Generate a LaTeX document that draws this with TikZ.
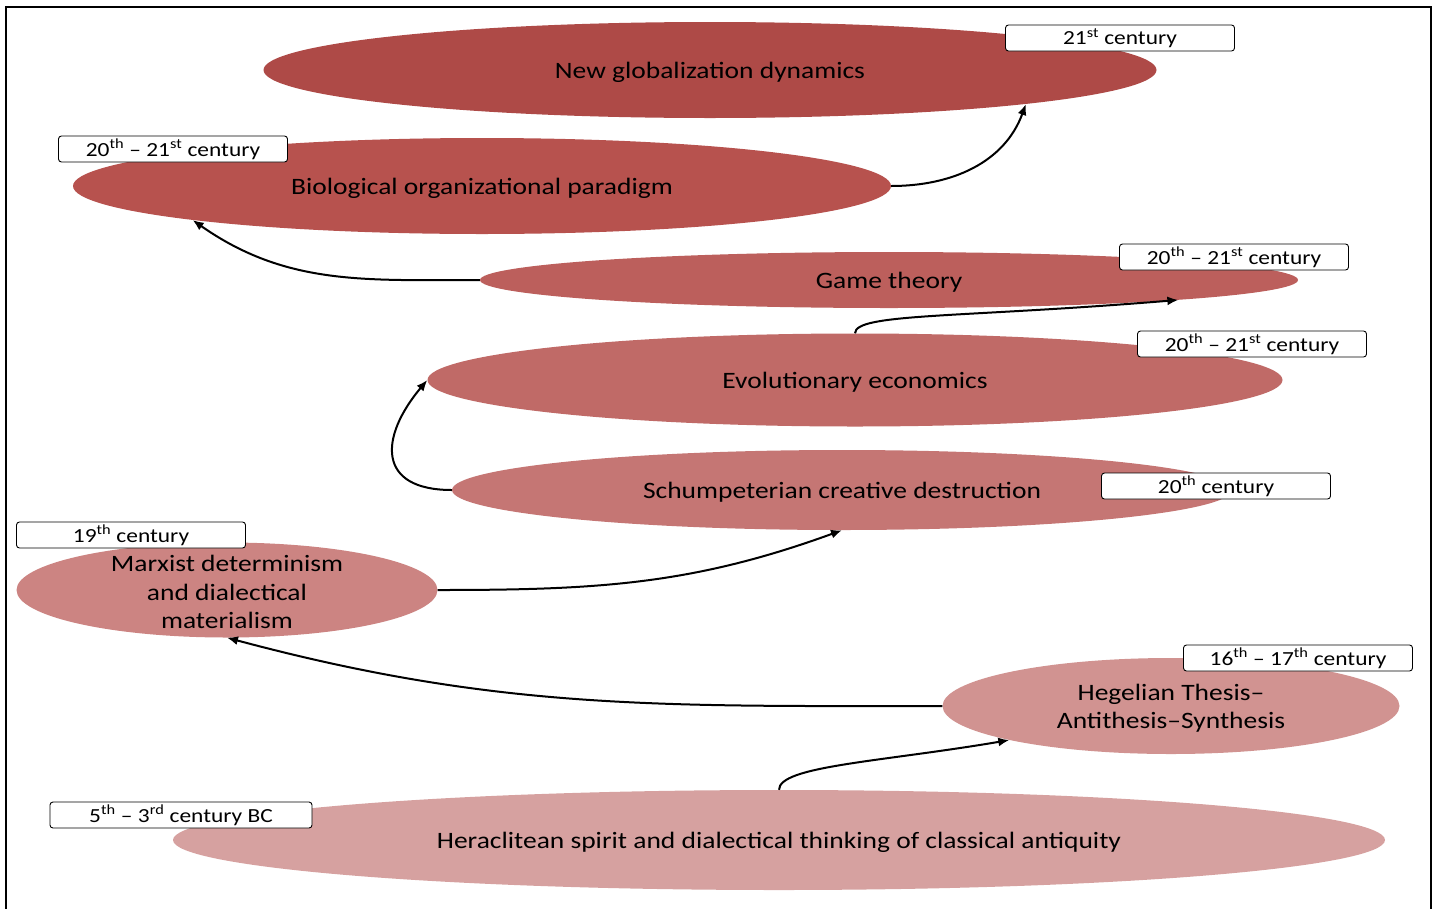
\documentclass[tikz,border=0pt]{standalone}
\usepackage{fontspec}
\setmainfont{Carlito}[FakeStretch=1.17]
\usetikzlibrary{shapes.geometric,arrows.meta}

\definecolor{eraA}{HTML}{AE4A47}
\definecolor{eraB}{HTML}{B7524E}
\definecolor{eraC}{HTML}{BC5F5C}
\definecolor{eraD}{HTML}{C06A67}
\definecolor{eraE}{HTML}{C57674}
\definecolor{eraF}{HTML}{CC8482}
\definecolor{eraG}{HTML}{D19391}
\definecolor{eraH}{HTML}{D6A1A0}

\begin{document}
\begin{tikzpicture}
    [x=1pt, y=-1pt,
      era/.style={ellipse, inner sep=0pt, draw=none},
      eratext/.style={align=center, font=\fontsize{23.5}{28.5}\selectfont, text=black, yshift=-2pt},
      period/.style={rectangle, rounded corners=3pt, draw=black, fill=white,
        line width=0.9pt, minimum width=229pt, minimum height=26pt, inner sep=0pt,
        font=\fontsize{20}{22}\selectfont},
      link/.style={-{Latex[length=11pt,width=9pt]}, line width=2pt}]

    \useasboundingbox (0,0) rectangle (1439,908);
    \draw[line width=2.5pt] (6,910) -- (6,7) -- (1431,7) -- (1431,910);

    % the eras, newest at the top
    \node (globdyn) [era, fill=eraA, minimum width=893pt, minimum height=96pt,
      label={[eratext]center:New globalization dynamics}] at (710,70) {};
    \node (bioparad) [era, fill=eraB, minimum width=818pt, minimum height=96pt,
      label={[eratext]center:Biological organizational paradigm}] at (482,186) {};
    \node (gametheo) [era, fill=eraC, minimum width=818pt, minimum height=56pt,
      label={[eratext]center:Game theory}] at (889,280) {};
    \node (evoecon) [era, fill=eraD, minimum width=855pt, minimum height=93pt,
      label={[eratext]center:Evolutionary economics}] at (855,380) {};
    \node (schump) [era, fill=eraE, minimum width=780pt, minimum height=80pt,
      label={[eratext]center:Schumpeterian creative destruction}] at (842,490) {};
    \node (marxist) [era, fill=eraF, minimum width=421pt, minimum height=95pt,
      label={[eratext]center:Marxist determinism\\and dialectical\\materialism}] at (227,590) {};
    \node (hegel) [era, fill=eraG, minimum width=457pt, minimum height=96pt,
      label={[eratext]center:Hegelian Thesis--\\Antithesis--Synthesis}] at (1171,706) {};
    \node (heracl) [era, fill=eraH, minimum width=1212pt, minimum height=100pt,
      label={[eratext]center:Heraclitean spirit and dialectical thinking of classical antiquity}] at (779,840) {};

    % the periods
    \node (pglob) [period] at (1120,38) {21\textsuperscript{st} century};
    \node (pbio) [period] at (173,149) {20\textsuperscript{th} -- 21\textsuperscript{st} century};
    \node (pgame) [period] at (1234,257) {20\textsuperscript{th} -- 21\textsuperscript{st} century};
    \node (pevo) [period] at (1252,344) {20\textsuperscript{th} -- 21\textsuperscript{st} century};
    \node (pschump) [period] at (1216,486) {20\textsuperscript{th} century};
    \node (pmarx) [period] at (131,535) {19\textsuperscript{th} century};
    \node (phegel) [period] at (1298,658) {16\textsuperscript{th} -- 17\textsuperscript{th} century};
    \node (pherac) [period, minimum width=262pt] at (181,815) {5\textsuperscript{th} -- 3\textsuperscript{rd} century BC};

    \draw[link] (heracl.north) .. controls (779,766) and (880,762) .. (hegel.south west);
    \draw[link] (hegel.west) to[out=180, in=-15] (marxist.south);
    \draw[link] (marxist.east) to[out=0, in=-160] (schump.south);
    \draw[link] (schump.west) to[out=180, in=-130, looseness=1.7] (evoecon.west);
    \draw[link] (evoecon.north) .. controls (855,313) and (960,318) .. (gametheo.south east);
    \draw[link] (gametheo.west) to[out=180, in=-35] (bioparad.south west);
    \draw[link] (bioparad.east) to[out=0, in=-110] (globdyn.south east);
  \end{tikzpicture}
\end{document}
